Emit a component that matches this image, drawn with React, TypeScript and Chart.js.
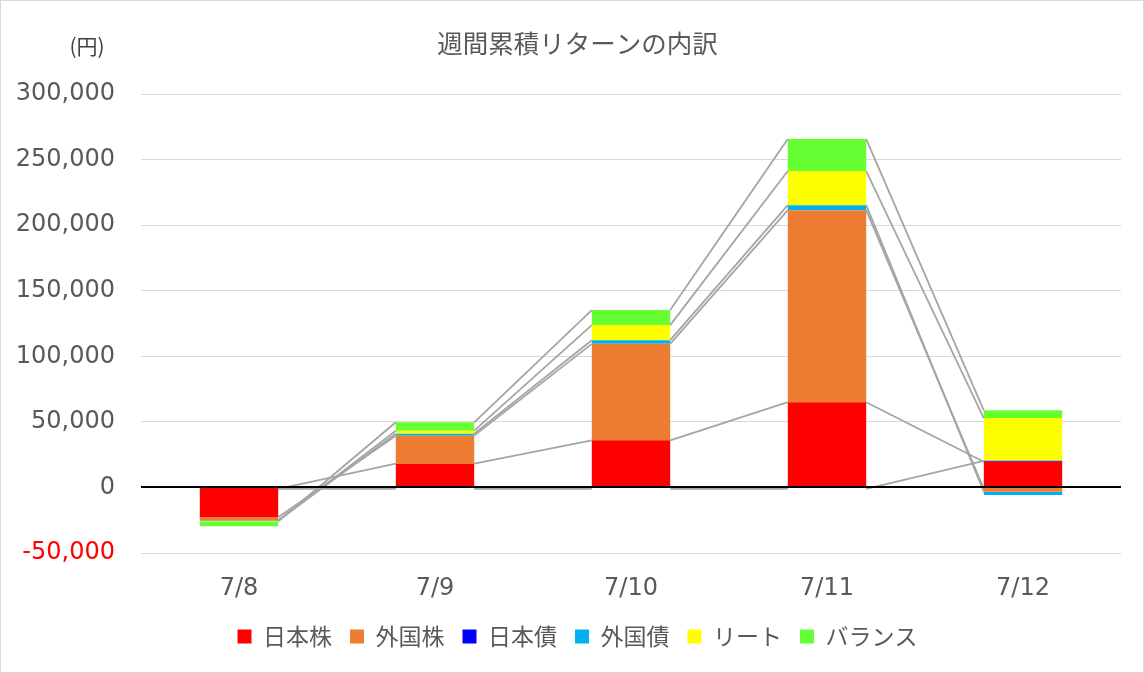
import React, { useEffect, useRef } from "react";
import { Chart, registerables } from "chart.js";

Chart.register(...registerables);

const categories = ["7/8", "7/9", "7/10", "7/11", "7/12"];
const seriesNames = ["日本株", "外国株", "日本債", "外国債", "リート", "バランス"];
const japanStocks = [-22700, 18100, 35900, 65000, 19600];
const foreignStocks = [-2500, 21400, 73600, 146500, -3200];
const japanBonds = [0, 0, 0, 0, 700];
const foreignBonds = [-300, 1500, 2800, 3800, -2500];
const reits = [-300, 2300, 11500, 26000, 32600];
const balance = [-3800, 6400, 11500, 24400, 5900];
const seriesColors = ["#FF0000", "#ED7D31", "#0000FF", "#00B0F0", "#FFFF00", "#66FF33"];
const yMin = -50000;
const yMax = 300000;
const yStep = 50000;
const titleText = "週間累積リターンの内訳";
const unitText = "(円)";

const NUM_FONT = '"DejaVu Sans", "Noto Sans CJK JP", sans-serif';
const CJK_FONT = '"Noto Sans CJK JP", "DejaVu Sans", sans-serif';

const decorPlugin = {
  id: "decor",
  beforeDraw(chart: any) {
    const { ctx, width, height } = chart;
    ctx.save();
    ctx.fillStyle = "#FFFFFF";
    ctx.fillRect(0, 0, width, height);
    ctx.restore();
  },
  afterDatasetsDraw(chart: any) {
    const { ctx, chartArea } = chart;
    const yScale = chart.scales.y;
    const n = categories.length;
    const pos = new Array(n).fill(0);
    const neg = new Array(n).fill(0);
    const tops: number[][] = [];
    chart.data.datasets.forEach((ds: any) => {
      const arr: number[] = [];
      for (let j = 0; j < n; j++) {
        const v = ds.data[j] as number;
        if (v > 0) {
          pos[j] += v;
          arr.push(pos[j]);
        } else if (v < 0) {
          arr.push(neg[j]);
          neg[j] += v;
        } else {
          arr.push(0);
        }
      }
      tops.push(arr);
    });
    ctx.save();
    const y0 = Math.round(yScale.getPixelForValue(0));
    ctx.strokeStyle = "#A5A5A5";
    ctx.lineWidth = 1.8;
    tops.forEach((arr, i) => {
      const meta = chart.getDatasetMeta(i);
      for (let j = 0; j < n - 1; j++) {
        const a: any = meta.data[j];
        const b: any = meta.data[j + 1];
        const x1 = a.x + a.width / 2;
        const x2 = b.x - b.width / 2;
        const off1 = arr[j] === 0 ? 1.5 : 0;
        const off2 = arr[j + 1] === 0 ? 1.5 : 0;
        ctx.beginPath();
        ctx.moveTo(x1, yScale.getPixelForValue(arr[j]) + off1);
        ctx.lineTo(x2, yScale.getPixelForValue(arr[j + 1]) + off2);
        ctx.stroke();
      }
    });
    ctx.strokeStyle = "#000000";
    ctx.lineWidth = 2;
    ctx.beginPath();
    ctx.moveTo(chartArea.left, y0);
    ctx.lineTo(chartArea.right, y0);
    ctx.stroke();
    ctx.restore();
  },
  afterDraw(chart: any) {
    const { ctx, width, height } = chart;
    ctx.save();
    ctx.fillStyle = "#404040";
    ctx.font = `21px ${CJK_FONT}`;
    ctx.textAlign = "center";
    ctx.textBaseline = "middle";
    ctx.fillText(unitText, 87, 46);
    ctx.strokeStyle = "#D9D9D9";
    ctx.lineWidth = 1;
    ctx.strokeRect(0.5, 0.5, width - 1, height - 1);
    ctx.restore();
  },
};

export default function App() {
  const canvasRef = useRef<HTMLCanvasElement | null>(null);

  useEffect(() => {
    if (!canvasRef.current) return;
    const seriesValues = [japanStocks, foreignStocks, japanBonds, foreignBonds, reits, balance];
    const chart = new Chart(canvasRef.current, {
      type: "bar",
      data: {
        labels: categories,
        datasets: seriesNames.map((name, i) => ({
          label: name,
          data: seriesValues[i],
          backgroundColor: seriesColors[i],
          borderColor: seriesColors[i],
          borderWidth: 0,
          barPercentage: 0.4,
          categoryPercentage: 1.0,
          yAxisID: "y",
        })),
      },
      options: {
        responsive: false,
        animation: false,
        devicePixelRatio: 1,
        layout: { padding: { left: 17, right: 6, top: 0, bottom: 15 } },
        plugins: {
          title: {
            display: true,
            text: titleText,
            color: "#595959",
            font: { family: CJK_FONT, size: 25.5, weight: "normal" },
            padding: { top: 28.5, bottom: 35 },
          },
          legend: {
            display: true,
            position: "bottom",
            labels: {
              color: "#595959",
              font: { family: CJK_FONT, size: 23 },
              boxWidth: 14,
              boxHeight: 14,
              padding: 18,
            },
          },
          tooltip: { enabled: false },
        },
        scales: {
          x: {
            stacked: true,
            grid: { display: false, drawTicks: false },
            border: { display: false },
            ticks: {
              color: "#595959",
              font: { family: NUM_FONT, size: 24 },
              padding: 21,
            },
            afterFit: (scale: any) => {
              scale.height = 54;
            },
          },
          y: {
            stacked: true,
            position: "left",
            min: yMin,
            max: yMax,
            border: { display: false },
            grid: {
              drawTicks: false,
              color: (c: any) => (c.tick && c.tick.value === 0 ? "rgba(0,0,0,0)" : "#D9D9D9"),
              lineWidth: 1,
            },
            ticks: {
              stepSize: yStep,
              padding: 26,
              font: { family: NUM_FONT, size: 24 },
              color: (c: any) => (c.tick && c.tick.value < 0 ? "#FF0000" : "#595959"),
              callback: (v: any) => Number(v).toLocaleString("en-US"),
            },
            afterFit: (scale: any) => {
              scale.width = 124;
            },
          },
          yRight: {
            position: "right",
            display: true,
            min: yMin,
            max: yMax,
            border: { display: false },
            grid: { display: false, drawTicks: false },
            ticks: { display: false },
            afterFit: (scale: any) => {
              scale.width = 17;
            },
          },
        },
      },
      plugins: [decorPlugin],
    });
    return () => chart.destroy();
  }, []);

  return (
    <div style={{ position: "absolute", left: 0, top: 0, width: 1144, height: 673 }}>
      <canvas ref={canvasRef} width={1144} height={673} style={{ display: "block" }} />
    </div>
  );
}
